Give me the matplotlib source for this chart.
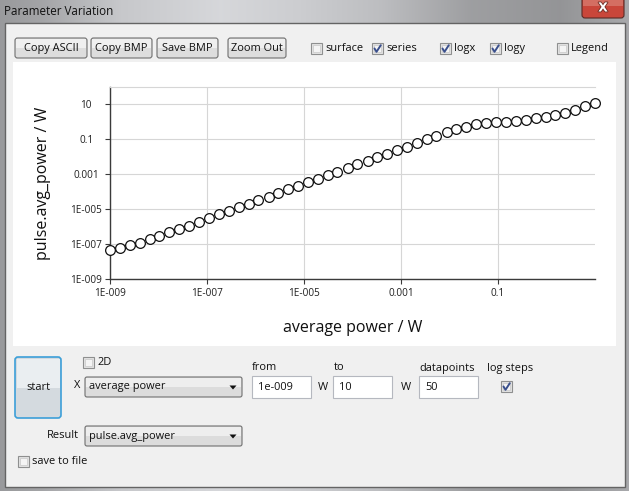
import numpy as np
import matplotlib
matplotlib.use("Agg")
import matplotlib.pyplot as plt
from matplotlib.patches import Rectangle, FancyBboxPatch, Polygon
from matplotlib.ticker import NullLocator
import matplotlib.patheffects as pe

# ---------------------------------------------------------------------
# Data
# ---------------------------------------------------------------------
# average power sweep, log10 of the x values (50 log steps, 1e-9 .. 10 W)
avg_power_log10 = [
    -9.00, -8.80, -8.59, -8.39, -8.18, -7.98, -7.78, -7.57, -7.37, -7.16,
    -6.96, -6.76, -6.55, -6.35, -6.14, -5.94, -5.73, -5.53, -5.33, -5.12,
    -4.92, -4.71, -4.51, -4.31, -4.10, -3.90, -3.69, -3.49, -3.29, -3.08,
    -2.88, -2.67, -2.47, -2.27, -2.06, -1.86, -1.65, -1.45, -1.24, -1.04,
    -0.84, -0.63, -0.43, -0.22, -0.02, 0.18, 0.39, 0.59, 0.80, 1.00,
]
# pulse.avg_power, log10 of the y values
pulse_avg_power_log10 = [
    -7.33, -7.21, -7.06, -6.91, -6.71, -6.51, -6.31, -6.14, -5.94, -5.71,
    -5.51, -5.29, -5.10, -4.87, -4.70, -4.49, -4.30, -4.09, -3.86, -3.67,
    -3.46, -3.27, -3.06, -2.89, -2.66, -2.43, -2.24, -2.03, -1.84, -1.63,
    -1.46, -1.23, -1.00, -0.81, -0.60, -0.43, -0.26, -0.13, -0.05, 0.00,
    0.02, 0.05, 0.12, 0.20, 0.27, 0.37, 0.52, 0.67, 0.89, 1.09,
]

x_tick_values = [1e-9, 1e-7, 1e-5, 1e-3, 1e-1]
x_tick_labels = ["1E-009", "1E-007", "1E-005", "0.001", "0.1"]
y_tick_values = [1e-9, 1e-7, 1e-5, 1e-3, 1e-1, 10]
y_tick_labels = ["1E-009", "1E-007", "1E-005", "0.001", "0.1", "10"]

X_LIMITS = (1e-9, 10)
Y_LIMITS = (1e-9, 1e2)

x_values = 10.0 ** np.array(avg_power_log10)
y_values = 10.0 ** np.array(pulse_avg_power_log10)

# ---------------------------------------------------------------------
# Figure / window chrome (pixel coordinates, origin top-left)
# ---------------------------------------------------------------------
W, H = 629, 491
UI_FONT = ["Open Sans", "DejaVu Sans"]
UI_SIZE = 7.9

fig = plt.figure(figsize=(W / 100, H / 100), dpi=100)
bg = fig.add_axes([0, 0, 1, 1])
bg.set_xlim(0, W)
bg.set_ylim(H, 0)
bg.axis("off")

# glassy title bar / frame
stops_x = [0, 40, 120, 220, 300, 380, 470, 560, 629]
stops_c = [0.60, 0.64, 0.78, 0.84, 0.80, 0.74, 0.62, 0.58, 0.66]
grad = np.interp(np.arange(W), stops_x, stops_c)
frame = np.dstack([grad, grad * 1.005, grad * 1.02]).clip(0, 1)
bg.imshow(frame, extent=(0, W, H, 0), aspect="auto", zorder=0)

bg.text(4, 11, "Parameter Variation", fontsize=8.4, family=UI_FONT,
        color="#101010", va="center", ha="left", zorder=2)

# close button
bg.add_patch(FancyBboxPatch((582, -4), 42, 22,
                            boxstyle="round,pad=0,rounding_size=3",
                            fc="#c9463a", ec="#5a2a25", lw=0.8, zorder=2))
bg.add_patch(Rectangle((583, -3), 40, 9, fc="#dc8a7e", ec="none",
                       alpha=0.6, zorder=2))
bg.text(603, 8, "X", fontsize=9, fontweight="bold", color="white",
        ha="center", va="center", family=["DejaVu Sans"], zorder=3,
        path_effects=[pe.withStroke(linewidth=1.2, foreground="#6b2a22")])

# client area
bg.add_patch(Rectangle((5, 23), 620, 464, fc="#f0f0f0", ec="#646464",
                       lw=1.0, zorder=1))


def button(x0, y0, x1, y1, label):
    bg.add_patch(FancyBboxPatch((x0, y0), x1 - x0, y1 - y0,
                                boxstyle="round,pad=0,rounding_size=2.5",
                                fc="#dddddd", ec="#707070", lw=0.8, zorder=2))
    bg.add_patch(Rectangle((x0 + 1, y0 + 1), x1 - x0 - 2, (y1 - y0) / 2 - 1,
                           fc="#efefef", ec="none", zorder=2))
    bg.text((x0 + x1) / 2, (y0 + y1) / 2, label, fontsize=UI_SIZE,
            family=UI_FONT, ha="center", va="center", color="#101010", zorder=3)


def checkbox(x, y, checked, label=None):
    bg.add_patch(Rectangle((x, y), 11, 11, fc="#e4e4e4", ec="#8e8f8f",
                           lw=0.8, zorder=2))
    bg.add_patch(Rectangle((x + 2, y + 2), 7, 7, fc="#f4f4f4", ec="#c8c8c8",
                           lw=0.5, zorder=2))
    if checked:
        bg.plot([x + 2.5, x + 4.5, x + 8.8], [y + 5.5, y + 8.8, y + 2.2],
                color="#3a4f8c", lw=1.4, solid_capstyle="round", zorder=3)
    if label:
        bg.text(x + 14, y + 5.5, label, fontsize=UI_SIZE, family=UI_FONT,
                ha="left", va="center", color="#101010", zorder=3)


def combo(x0, y0, x1, y1, label):
    bg.add_patch(FancyBboxPatch((x0, y0), x1 - x0, y1 - y0,
                                boxstyle="round,pad=0,rounding_size=2",
                                fc="#dcdcdc", ec="#707070", lw=0.8, zorder=2))
    bg.add_patch(Rectangle((x0 + 1, y0 + 1), x1 - x0 - 2, (y1 - y0) / 2 - 1,
                           fc="#eeeeee", ec="none", zorder=2))
    bg.text(x0 + 4, (y0 + y1) / 2, label, fontsize=UI_SIZE, family=UI_FONT,
            ha="left", va="center", color="#101010", zorder=3)
    ax_c = x1 - 9
    ay = (y0 + y1) / 2
    bg.add_patch(Polygon([[ax_c - 3.5, ay - 1.5], [ax_c + 3.5, ay - 1.5],
                          [ax_c, ay + 2.5]], closed=True, fc="#101010",
                         ec="none", zorder=3))


def textbox(x0, y0, x1, y1, label):
    bg.add_patch(Rectangle((x0, y0), x1 - x0, y1 - y0, fc="white",
                           ec="#b5b8bf", lw=0.8, zorder=2))
    bg.text(x0 + 6, (y0 + y1) / 2, label, fontsize=UI_SIZE, family=UI_FONT,
            ha="left", va="center", color="#101010", zorder=3)


def label(x, y, text, ha="left"):
    bg.text(x, y, text, fontsize=UI_SIZE, family=UI_FONT, ha=ha,
            va="center", color="#101010", zorder=3)


# toolbar
button(15, 38, 87, 58, "Copy ASCII")
button(91, 38, 152, 58, "Copy BMP")
button(157, 38, 218, 58, "Save BMP")
button(228, 38, 286, 58, "Zoom Out")
checkbox(311, 43, False, "surface")
checkbox(372, 43, True, "series")
checkbox(440, 43, True, "logx")
checkbox(490, 43, True, "logy")
checkbox(557, 43, False, "Legend")

# white plot panel
bg.add_patch(Rectangle((13, 62), 603, 284, fc="white", ec="none", zorder=1.5))

# bottom controls
bg.add_patch(FancyBboxPatch((15, 357), 46, 61,
                            boxstyle="round,pad=0,rounding_size=3",
                            fc="#d4dadf", ec="#3c9fd8", lw=1.2, zorder=2))
bg.add_patch(Rectangle((16.5, 358.5), 43, 29, fc="#eaeef1", ec="none",
                       zorder=2))
bg.text(38, 387, "start", fontsize=UI_SIZE, family=UI_FONT, ha="center",
        va="center", color="#101010", zorder=3)

checkbox(83, 357, False, "2D")
label(74, 386, "X")
combo(85, 377, 242, 397, "average power")
label(252, 368, "from")
textbox(252, 376, 311, 398, "1e-009")
label(318, 387, "W")
label(334, 368, "to")
textbox(333, 376, 392, 398, "10")
label(401, 387, "W")
label(419, 368, "datapoints")
textbox(419, 376, 478, 398, "50")
label(487, 368, "log steps")
checkbox(501, 381, True)
label(79, 436, "Result", ha="right")
combo(85, 426, 242, 446, "pulse.avg_power")
checkbox(18, 456, False, "save to file")

# ---------------------------------------------------------------------
# Plot
# ---------------------------------------------------------------------
left, right, top, bottom = 110, 595, 87, 279.3
ax = fig.add_axes([left / W, 1 - bottom / H, (right - left) / W,
                   (bottom - top) / H])
ax.set_zorder(2)
ax.set_facecolor("white")

ax.plot(x_values, y_values, linestyle="none", marker="o", markersize=7,
        markerfacecolor="white", markeredgecolor="#101010",
        markeredgewidth=0.9, clip_on=False, zorder=3)

ax.set_xscale("log")
ax.set_yscale("log")
ax.set_xlim(*X_LIMITS)
ax.set_ylim(*Y_LIMITS)
ax.set_xticks(x_tick_values)
ax.set_xticklabels(x_tick_labels)
ax.set_yticks(y_tick_values)
ax.set_yticklabels(y_tick_labels)
ax.xaxis.set_minor_locator(NullLocator())
ax.yaxis.set_minor_locator(NullLocator())

ax.grid(True, color="#d6d6d6", linewidth=0.8)
ax.set_axisbelow(True)
for side in ("left", "bottom"):
    ax.spines[side].set_color("#3a3a3a")
    ax.spines[side].set_linewidth(1.0)
ax.spines["top"].set_color("#d6d6d6")
ax.spines["top"].set_linewidth(0.8)
ax.spines["right"].set_visible(False)

ax.tick_params(axis="both", direction="out", length=3.6, width=0.8,
               color="#3a3a3a", labelsize=7.2, labelcolor="#202020")
ax.tick_params(axis="x", pad=2.5)
ax.tick_params(axis="y", pad=13.5)
for lab in ax.get_yticklabels():
    lab.set_horizontalalignment("center")
    lab.set_family(UI_FONT)
for lab in ax.get_xticklabels():
    lab.set_family(UI_FONT)

ax.set_xlabel("average power / W", fontsize=11.5, family=UI_FONT,
              color="#101010", va="center")
ax.xaxis.set_label_coords(0.5, -(328 - bottom) / (bottom - top))
ax.set_ylabel("pulse.avg_power / W", fontsize=11.5, family=UI_FONT,
              color="#101010", va="center")
ax.yaxis.set_label_coords((43 - left) / (right - left), 0.5)

fig.savefig("out.png", dpi=100)
